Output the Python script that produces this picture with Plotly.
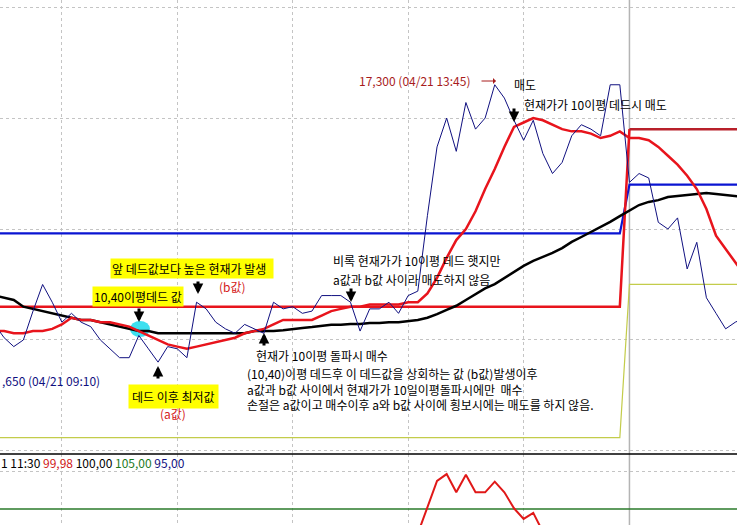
import plotly.graph_objects as go
from plotly.subplots import make_subplots

# size of the HTS screen capture
W, H = 737, 525

# bar numbers (10분봉), bar 0 sits just left of the visible area
bars = list(range(79))

# 현재가 (navy)
price = [16785, 16755, 16735, 16750, 16815, 16875, 16835, 16790, 16810, 16790,
         16780, 16750, 16730, 16710, 16710, 16760, 16730, 16700, 16735, 16730,
         16710, 16835, 16820, 16790, 16775, 16765, 16785, 16775, 16765, 16835,
         16820, 16825, 16810, 16815, 16850, 16850, 16850, 16835, 16770, 16820,
         16820, 16835, 16810, 16850, 16860, 17030, 17185, 17250, 17175, 17285,
         17225, 17250, 17325, 17295, 17245, 17200, 17245, 17170, 17125, 17150,
         17210, 17235, 17225, 17210, 17325, 17325, 17105, 17125, 17115, 17015,
         17000, 17025, 16910, 16970, 16845, 16810, 16775, 16790, 16800]

# 10이평 (red) and 40이평 (black)
ma10 = [16770, 16770, 16765, 16765, 16770, 16770, 16775, 16785, 16800, 16795,
        16795, 16790, 16790, 16785, 16780, 16770, 16760, 16750, 16740, 16735,
        16730, 16735, 16740, 16745, 16750, 16755, 16765, 16770, 16775, 16785,
        16795, 16795, 16795, 16795, 16805, 16815, 16820, 16825, 16825, 16830,
        16830, 16830, 16830, 16835, 16835, 16855, 16890, 16935, 16975, 17000,
        17040, 17090, 17135, 17185, 17230, 17240, 17250, 17245, 17235, 17225,
        17220, 17220, 17215, 17205, 17210, 17220, 17205, 17205, 17200, 17185,
        17165, 17145, 17120, 17090, 17045, 16985, 16955, 16925, 16895]

ma40 = [16850, 16845, 16840, 16825, 16820, 16815, 16810, 16805, 16800, 16795,
        16795, 16790, 16785, 16780, 16775, 16770, 16770, 16765, 16765, 16765,
        16765, 16765, 16765, 16765, 16765, 16765, 16765, 16770, 16770, 16770,
        16772, 16775, 16777, 16779, 16782, 16784, 16784, 16786, 16786, 16788,
        16788, 16790, 16790, 16793, 16795, 16800, 16808, 16818, 16827, 16840,
        16854, 16866, 16876, 16890, 16905, 16917, 16928, 16937, 16946, 16957,
        16971, 16982, 16993, 17005, 17016, 17029, 17041, 17054, 17061, 17065,
        17072, 17074, 17077, 17079, 17081, 17079, 17077, 17074, 17072]

# step lines (value changes at the day break)
step_x = [0, 65, 66, 78]
dead_val = [16825, 16825, 17225, 17225]     # 10,40이평데드 값
blue_val = [16990, 16990, 17100, 17100]
olive_val = [16530, 16530, 16875, 16875]

# lower indicator panel
osc_x = list(range(43, 59))
osc = [98.3, 101.7, 105.3, 108.7, 109.6, 107.2, 109.5, 107.2,
       107.2, 108.6, 107.2, 105.1, 103.7, 104.5, 102.0, 98.9]
osc_level = 105

price_grid = [16500, 16750, 17000, 17250, 17500]
osc_grid = [110]
time_grid = [7, 19, 31, 43, 55]
day_break = 66

RED = '#e8141c'
FONT = 'Noto Sans CJK KR, Noto Sans, sans-serif'

fig = make_subplots(rows=2, cols=1, shared_xaxes=True, vertical_spacing=0,
                    row_heights=[454 / H, 71 / H])

fig.add_trace(go.Scatter(x=step_x, y=olive_val, mode='lines',
                         line=dict(color='#c3cc4a', width=1.2)), row=1, col=1)
fig.add_trace(go.Scatter(x=step_x, y=blue_val, mode='lines',
                         line=dict(color='#0a14d2', width=2.2)), row=1, col=1)
fig.add_trace(go.Scatter(x=step_x[:3], y=dead_val[:3], mode='lines',
                         line=dict(color=RED, width=2.5)), row=1, col=1)
fig.add_trace(go.Scatter(x=step_x[2:], y=dead_val[2:], mode='lines',
                         line=dict(color='#b8202a', width=2.5)), row=1, col=1)
fig.add_trace(go.Scatter(x=bars, y=ma40, mode='lines',
                         line=dict(color='black', width=2.5)), row=1, col=1)
fig.add_trace(go.Scatter(x=bars, y=ma10, mode='lines',
                         line=dict(color=RED, width=2.5)), row=1, col=1)
fig.add_trace(go.Scatter(x=bars, y=price, mode='lines',
                         line=dict(color='#101080', width=1)), row=1, col=1)

fig.add_trace(go.Scatter(x=[bars[0], bars[-1]], y=[osc_level, osc_level], mode='lines',
                         line=dict(color='#2a7a2a', width=1.5)), row=2, col=1)
fig.add_trace(go.Scatter(x=osc_x, y=osc, mode='lines',
                         line=dict(color='#e01818', width=2)), row=2, col=1)

grid = dict(showgrid=True, gridcolor='#c4c4c4', griddash='3px,3px', gridwidth=1,
            zeroline=False, showline=False, showticklabels=False, ticks='')
fig.update_xaxes(range=[0.57, 77.18], tickvals=time_grid, **grid)
fig.update_yaxes(range=[16493, 17516], tickvals=price_grid, row=1, col=1, **grid)
fig.update_yaxes(range=[102.9, 112.24], tickvals=osc_grid, row=2, col=1, **grid)


def paper(x, y):
    return x / W, 1 - y / H


# panel separator, day break and highlight of the dead cross
sep_y = paper(0, 454)[1]
fig.add_shape(type='line', xref='paper', yref='paper', x0=0, x1=1, y0=sep_y, y1=sep_y,
              line=dict(color='black', width=1.5))
fig.add_shape(type='line', xref='x', yref='paper', x0=day_break, x1=day_break, y0=0, y1=1,
              line=dict(color='#b4b4b4', width=1.5), layer='below')
cx0, cy0 = paper(130, 337)
cx1, cy1 = paper(150, 321)
fig.add_shape(type='circle', xref='paper', yref='paper', x0=cx0, x1=cx1, y0=cy0, y1=cy1,
              fillcolor='#3ee0f0', line=dict(width=0), layer='below')


def text(x, y, s, color='black', bg=None, pad=1, anchor='left', size=12, align='left'):
    px, py = paper(x, y)
    fig.add_annotation(x=px, y=py, xref='paper', yref='paper', text=s, showarrow=False,
                       xanchor=anchor, yanchor='middle', bgcolor=bg, borderpad=pad,
                       align=align, font=dict(family=FONT, size=size, color=color))


def arrow(x, y, dy, color='black'):
    px, py = paper(x, y)
    fig.add_annotation(x=px, y=py, xref='paper', yref='paper', text='', showarrow=True,
                       ax=0, ay=dy, arrowhead=2, arrowsize=0.7, arrowwidth=3,
                       arrowcolor=color)


text(357, 81, '17,300 (04/21 13:45)', '#a81c1c')
px0, py0 = paper(496, 81)
fig.add_annotation(x=px0, y=py0, xref='paper', yref='paper', text='', showarrow=True,
                   ax=-16, ay=0, arrowhead=1, arrowsize=1, arrowwidth=1, arrowcolor='#a81c1c')
text(512, 84, '매도')
text(522, 104, '현재가가 10이평 데드시 매도')
arrow(514, 122, -15)

text(331, 260, '비록 현재가가 10이평 데드 햇지만')
text(331, 279, 'a값과 b값 사이라 매도하지 않음')
arrow(351, 302, -15)

text(254, 355, '현재가 10이평 돌파시 매수')
arrow(264, 333, 14)
text(246, 389, '(10,40)이평 데드후 이 데드값을 상회하는 값 (b값)발생이후<br>'
               'a값과 b값 사이에서 현재가가 10일이평돌파시에만  매수<br>'
               '손절은 a값이고 매수이후 a와 b값 사이에 횡보시에는 매도를 하지 않음.', pad=0)

text(110, 268, '앞 데드값보다 높은 현재가 발생\u00a0\u00a0', bg='#ffff00', pad=1)
text(217, 286, '(b값)', '#d42020')
arrow(198, 294, -14)
text(92, 296, '10,40이평데드 값', bg='#ffff00', pad=1)
arrow(139, 322, -15)

arrow(158, 366, 14)
text(128, 396, '데드 이후 최저값', bg='#ffff00', pad=3)
text(158, 413, '(a값)', '#d42020')
text(0, 380, ',650 (04/21 09:10)', '#101080')

text(0, 462, '1 11:30 <span style="color:#d01818">99,98</span> 100,00 '
             '<span style="color:#1e7a1e">105,00</span> '
             '<span style="color:#101080">95,00</span>', pad=0)

fig.update_layout(width=W, height=H, margin=dict(l=0, r=0, t=0, b=0),
                  showlegend=False, plot_bgcolor='white', paper_bgcolor='white')

# the page's default body margin would shift the chart inside the window
fig.write_html("out.html", config={'displayModeBar': False},
               post_script="document.body.style.margin = '0';")
